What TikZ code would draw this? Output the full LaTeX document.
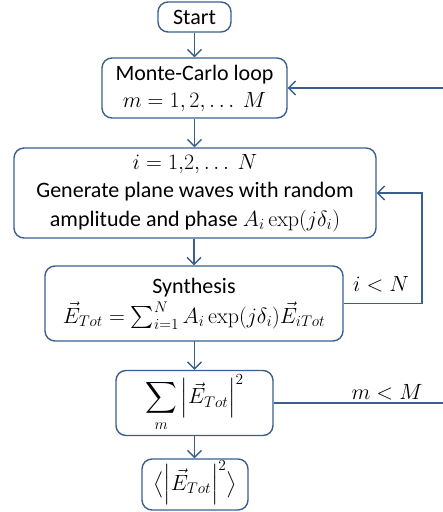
\RequirePackage{fix-cm}
\documentclass[tikz,border=0pt]{standalone}
\usepackage[no-math]{fontspec}
\setmainfont{Carlito}
\DeclareFontShape{OMX}{cmex}{m}{n}{<-> cmex10}{}
\usetikzlibrary{arrows.meta}
\definecolor{lineblue}{HTML}{3A5F8F}
\newcommand\mybars[1]{\left|\rule[-4pt]{0pt}{22pt}#1\right|}
\begin{document}
\begin{tikzpicture}[x=1pt,y=-1pt,
  box/.style={draw=lineblue,line width=1.4pt,rounded corners=10pt,align=center,inner sep=0pt,
    font=\fontsize{22}{27}\selectfont},
  conn/.style={draw=lineblue,line width=1.4pt,-{Straight Barb[length=7pt,width=14pt,line width=1.4pt]}},
  plain/.style={draw=lineblue,line width=1.4pt},
  lbl/.style={font=\fontsize{22}{26}\selectfont,inner sep=0pt}]
\useasboundingbox (0,0) rectangle (443,512);
\node[box,minimum width=73pt,minimum height=30pt] (start) at (194.5,17) {Start};
\node[box,minimum width=185pt,minimum height=60pt] (mc) at (194.5,88) {Monte-Carlo loop\\$m=1,2,\ldots\ M$};
\node[box,minimum width=362pt,minimum height=90pt,font=\fontsize{22}{28.5}\selectfont] (gen) at (195,193) {$i=1{,}2{,}\ldots\ N$\\Generate plane waves with random\\amplitude and phase $A_i\exp(j\delta_i)$};
\node[box,minimum width=298pt,minimum height=75pt,font=\fontsize{22}{30}\selectfont] (syn) at (194,303.5) {Synthesis\\$\vec{E}_{Tot}=\sum_{i=1}^{N}A_i\exp(j\delta_i)\vec{E}_{iTot}$};
\node[box,minimum width=157pt,minimum height=65pt] (sum) at (194.5,403) {$\displaystyle\sum_{m}\mybars{\vec{E}_{Tot}}^{2}$};
\node[box,minimum width=106pt,minimum height=51pt] (fin) at (195,484.5) {$\left\langle\rule[-7pt]{0pt}{23pt}\smash{\mybars{\vec{E}_{Tot}}^{2}}\right\rangle$};
\coordinate (e1) at (443,88);
\coordinate (e2) at (443,403);
\coordinate (r1) at (422,303.5);
\draw[conn] (start.south) -- (start.south |- mc.north);
\draw[conn] (mc.south) -- (mc.south |- gen.north);
\draw[conn] (syn.north |- gen.south) -- (syn.north);
\draw[conn] (syn.south) -- (syn.south -| sum.north) -- (sum.north);
\draw[conn] (sum.south) -- (sum.south |- fin.north);
\draw[conn] (e1) -- (mc.east);
\draw[plain] (sum.east) -- (e2);
\draw[conn] (syn.east) -- (r1) |- (gen.east);
\node[lbl] (lin) at (381,284) {$i<N$};
\node[lbl] (lmm) at (387,392) {$m<M$};
\end{tikzpicture}
\end{document}
